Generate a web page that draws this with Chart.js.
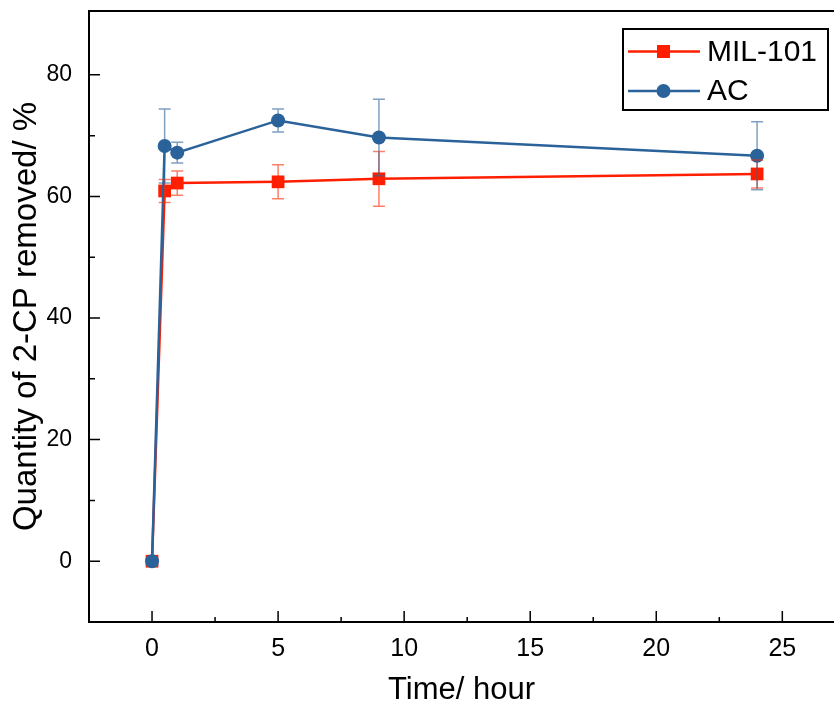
<!DOCTYPE html>
<html>
<head>
<meta charset="utf-8">
<script src="https://cdn.jsdelivr.net/npm/chart.js@4.4.0/dist/chart.umd.min.js"></script>
<style>
html, body { margin: 0; padding: 0; background: #fff; }
#wrap { width: 834px; height: 706px; }
</style>
</head>
<body>
<div id="wrap"><canvas id="chartRemoval"></canvas></div>
<script>
// data
const hours = [0, 0.5, 1, 5, 9, 24];
const milValues = [0, 60.9, 62.2, 62.4, 62.9, 63.7];
const milErrors = [0, 1.9, 2.0, 2.8, 4.5, 2.3];
const acValues = [0, 68.3, 67.2, 72.5, 69.7, 66.7];
const acErrors = [0, 6.1, 1.7, 1.9, 6.3, 5.6];
const seriesNames = ['MIL-101', 'AC'];
const xTicks = [0, 5, 10, 15, 20, 25];
const xMinorTicks = [2.5, 7.5, 12.5, 17.5, 22.5];
const yTicks = [0, 20, 40, 60, 80];
const yMinorTicks = [10, 30, 50, 70];

const RED = '#ff1f00';
const BLUE = '#2a629a';
const FONT = '"Liberation Sans", Arial, sans-serif';

Chart.defaults.font.family = FONT;
Chart.defaults.color = '#000';

const ctx = document.getElementById('chartRemoval').getContext('2d');
const errors = [milErrors, acErrors];
const values = [milValues, acValues];
const errColors = ['rgba(255,40,0,0.6)', 'rgba(42,98,154,0.6)'];

// error bars, frame, inward ticks and legend box
const framePlugin = {
  id: 'framePlugin',
  afterDatasetsDraw(chart) {
    const c = chart.ctx;
    const xs = chart.scales.x, ys = chart.scales.y;
    c.save();
    c.lineWidth = 1.5;
    for (let i = 0; i < values.length; i++) {
      c.strokeStyle = errColors[i];
      hours.forEach((h, j) => {
        const e = errors[i][j];
        if (!e) return;
        const x = xs.getPixelForValue(h);
        const yt = ys.getPixelForValue(values[i][j] + e);
        const yb = ys.getPixelForValue(values[i][j] - e);
        c.beginPath();
        c.moveTo(x, yt); c.lineTo(x, yb);
        c.moveTo(x - 6, yt); c.lineTo(x + 6, yt);
        c.moveTo(x - 6, yb); c.lineTo(x + 6, yb);
        c.stroke();
      });
    }
    c.restore();
  },
  afterDraw(chart) {
    const c = chart.ctx;
    const a = chart.chartArea;
    const xs = chart.scales.x, ys = chart.scales.y;
    c.save();
    c.strokeStyle = '#000';
    c.lineWidth = 2;
    c.beginPath();
    c.moveTo(a.right, a.top); c.lineTo(a.left, a.top);
    c.lineTo(a.left, a.bottom); c.lineTo(a.right, a.bottom);
    c.stroke();
    c.lineWidth = 1.5;
    c.beginPath();
    xTicks.forEach(v => { const x = xs.getPixelForValue(v); c.moveTo(x, a.bottom); c.lineTo(x, a.bottom - 11); });
    xMinorTicks.forEach(v => { const x = xs.getPixelForValue(v); c.moveTo(x, a.bottom); c.lineTo(x, a.bottom - 5); });
    yTicks.forEach(v => { const y = ys.getPixelForValue(v); c.moveTo(a.left, y); c.lineTo(a.left + 11, y); });
    yMinorTicks.forEach(v => { const y = ys.getPixelForValue(v); c.moveTo(a.left, y); c.lineTo(a.left + 6, y); });
    c.stroke();

    // legend
    c.lineWidth = 2;
    c.strokeRect(623, 29, 205, 81);
    const rows = [51.5, 91];
    chart.data.datasets.forEach((ds, i) => {
      const y = rows[i];
      c.strokeStyle = ds.borderColor;
      c.lineWidth = 2.5;
      c.beginPath(); c.moveTo(628, y); c.lineTo(700, y); c.stroke();
      c.fillStyle = ds.backgroundColor;
      if (ds.pointStyle === 'rect') {
        c.fillRect(657, y - 6.5, 13, 13);
      } else {
        c.beginPath(); c.arc(663.5, y, 7, 0, Math.PI * 2); c.fill();
      }
      c.fillStyle = '#000';
      c.font = '30px ' + FONT;
      c.textBaseline = 'middle';
      c.textAlign = 'left';
      c.fillText(ds.label, 707, y + 1);
    });
    c.restore();
  }
};

new Chart(ctx, {
  type: 'line',
  data: {
    datasets: [
      {
        label: seriesNames[0],
        data: hours.map((h, i) => ({ x: h, y: milValues[i] })),
        borderColor: RED,
        backgroundColor: RED,
        borderWidth: 2.5,
        pointStyle: 'rect',
        pointRadius: 9,
        pointBorderWidth: 0,
        order: 2
      },
      {
        label: seriesNames[1],
        data: hours.map((h, i) => ({ x: h, y: acValues[i] })),
        borderColor: BLUE,
        backgroundColor: BLUE,
        borderWidth: 2.5,
        pointStyle: 'circle',
        pointRadius: 7,
        pointBorderWidth: 0,
        order: 1
      }
    ]
  },
  options: {
    responsive: true,
    maintainAspectRatio: false,
    animation: false,
    layout: { autoPadding: false, padding: { top: 11, right: 0, bottom: 0, left: 0 } },
    plugins: {
      legend: { display: false },
      tooltip: { enabled: false }
    },
    scales: {
      x: {
        type: 'linear',
        min: -2.5,
        max: 27.05,
        grid: { display: false, drawTicks: false },
        border: { display: false },
        afterBuildTicks(s) { s.ticks = xTicks.map(v => ({ value: v })); },
        afterFit(s) { s.height = 84; s.paddingLeft = 0; s.paddingRight = 0; },
        ticks: { padding: 12, font: { size: 25 } },
        title: {
          display: true,
          text: 'Time/ hour',
          font: { size: 31, lineHeight: 1 },
          padding: { top: 0, bottom: 0 }
        }
      },
      y: {
        type: 'linear',
        min: -10,
        max: 90.5,
        grid: { display: false, drawTicks: false },
        border: { display: false },
        afterBuildTicks(s) { s.ticks = yTicks.map(v => ({ value: v })); },
        afterFit(s) { s.width = 89; s.paddingTop = 0; s.paddingBottom = 0; },
        ticks: { padding: 17, font: { size: 23 } },
        title: {
          display: true,
          text: 'Quantity of 2-CP removed/ %',
          font: { size: 33, lineHeight: 1 },
          padding: { top: 10, bottom: 0 }
        }
      }
    }
  },
  plugins: [framePlugin]
});
</script>
</body>
</html>
